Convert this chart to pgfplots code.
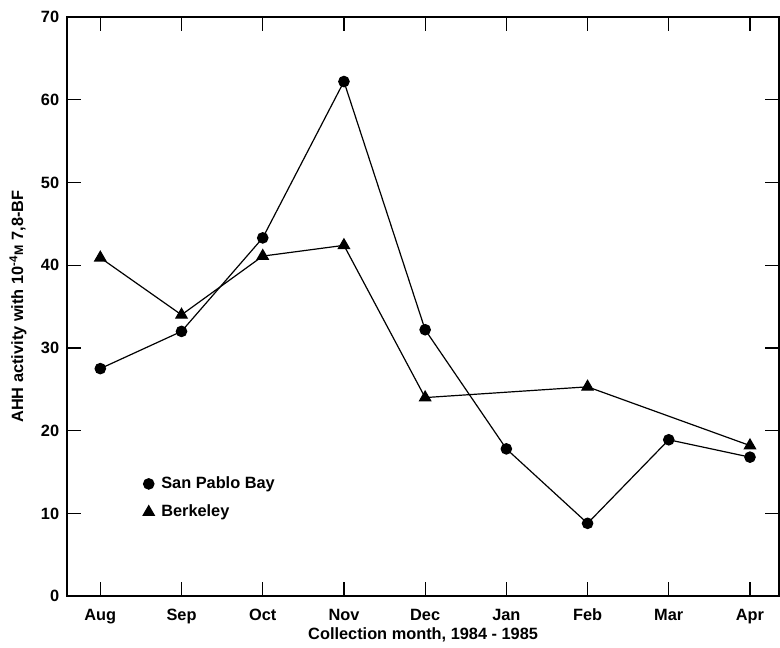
\documentclass[border=0pt]{standalone}
\usepackage{pgfplots}
\pgfplotsset{compat=1.18}
\usepackage{fontspec}
\setmainfont{Liberation Sans}
\begin{document}
\fontsize{8.2}{9.5}\selectfont
\begin{tikzpicture}
\begin{axis}[
  scale only axis,
  width=356bp, height=289.5bp,
  xmin=-0.41, xmax=8.36,
  ymin=0, ymax=70,
  xtick={0,...,8},
  xticklabels={Aug,Sep,Oct,Nov,Dec,Jan,Feb,Mar,Apr},
  ytick={0,10,...,70},
  tick align=inside,
  xtick pos=both, ytick pos=both,
  ticklabel pos=left,
  major tick length=7bp,
  axis line style={line width=0.8bp},
  tick style={line width=0.6bp, black},
  /pgf/number format/assume math mode=true,
  ticklabel style={font=\fontsize{8.2}{9.5}\selectfont\bfseries},
  yticklabel style={xshift=-1bp},
  xticklabel style={yshift=-3.5bp},
  xlabel={Collection month, 1984 - 1985},
  ylabel={AHH activity with 10\textsuperscript{-4}{\fontsize{6.2}{7}\selectfont M} 7,8-BF},
  every axis x label/.style={at={(axis description cs:0.5,0)}, yshift=-19.5bp, anchor=center, font=\fontsize{8.2}{9.5}\selectfont\bfseries},
  every axis y label/.style={at={(axis description cs:0,0.5)}, xshift=-24.5bp, rotate=90, anchor=center, font=\fontsize{8.2}{9.5}\selectfont\bfseries},
  legend style={draw=none, fill=none, at={(0.098,0.2206)}, anchor=north west,
    font=\fontsize{8.2}{9.5}\selectfont\bfseries, row sep=3bp,
    legend cell align=left,
    /tikz/every even column/.append style={column sep=8bp}},
  every axis plot/.append style={line width=0.6bp, black},
]
\coordinate (SW) at (rel axis cs:0,0);
\coordinate (NE) at (rel axis cs:1,1);
\addplot[mark=*, mark size=2.6bp, forget plot] coordinates {
 (0,27.5) (1,32) (2,43.3) (3,62.2) (4,32.2) (5,17.8) (6,8.8) (7,18.9) (8,16.8)};
\addplot[mark=triangle*, mark size=3.2bp, forget plot] coordinates {
 (0,40.9) (1,34) (2,41.1) (3,42.4) (4,24.0) (6,25.3) (8,18.2)};
\addlegendimage{only marks, mark=*, mark size=2.6bp, black}
\addlegendentry{\hspace*{1.5bp}San Pablo Bay}
\addlegendimage{only marks, mark=triangle*, mark size=3.2bp, black}
\addlegendentry{\hspace*{1.5bp}Berkeley}
\end{axis}
\path (SW) ++(-33.5bp,-25.5bp) (NE) ++(0.4bp,8.5bp);
\end{tikzpicture}
\end{document}
